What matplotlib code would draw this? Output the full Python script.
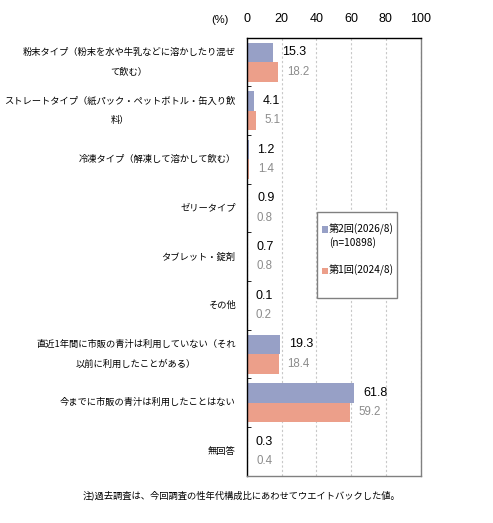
import matplotlib
matplotlib.use("Agg")
import matplotlib.pyplot as plt
from matplotlib.patches import Rectangle
import numpy as np

plt.rcParams['font.family'] = ['Noto Sans CJK JP', 'DejaVu Sans']

categories = [
    "粉末タイプ（粉末を水や牛乳などに溶かしたり混ぜ\nて飲む）",
    "ストレートタイプ（紙パック・ペットボトル・缶入り飲\n料）",
    "冷凍タイプ（解凍して溶かして飲む）",
    "ゼリータイプ",
    "タブレット・錠剤",
    "その他",
    "直近1年間に市販の青汁は利用していない（それ\n以前に利用したことがある）",
    "今までに市販の青汁は利用したことはない",
    "無回答",
]
series2 = [15.3, 4.1, 1.2, 0.9, 0.7, 0.1, 19.3, 61.8, 0.3]
series1 = [18.2, 5.1, 1.4, 0.8, 0.8, 0.2, 18.4, 59.2, 0.4]
label2 = "第2回(2026/8)\n(n=10898)"
label1 = "第1回(2024/8)"
xticks = [0, 20, 40, 60, 80, 100]

c_blue = "#97A0C6"
c_red = "#EC9F8A"

W, H = 493, 523
fig = plt.figure(figsize=(W / 100, H / 100), dpi=100)
ax = fig.add_axes([246.7 / W, 1 - 475.7 / H, 174 / W, 438 / H])

y = np.arange(len(categories))
h = 0.4
ax.barh(y - h / 2, series2, height=h, color=c_blue, zorder=2)
ax.barh(y + h / 2, series1, height=h, color=c_red, zorder=2)

for yi, v in zip(y, series2):
    ax.annotate(f"{v:.1f}", (v, yi - h / 2), xytext=(6.3, 0), textcoords="offset points",
                va="center", ha="left", fontsize=9, color="black", family="Liberation Sans")
for yi, v in zip(y, series1):
    ax.annotate(f"{v:.1f}", (v, yi + h / 2), xytext=(6.3, 0), textcoords="offset points",
                va="center", ha="left", fontsize=8.3, color="#8C8C8C", family="Liberation Sans")

ax.set_xlim(0, 100)
ax.set_ylim(len(categories) - 0.5, -0.5)
ax.set_xticks(xticks)
ax.xaxis.tick_top()
ax.tick_params(axis="x", length=0, pad=9, labelsize=9)
for lab in ax.get_xticklabels():
    lab.set_family("Liberation Sans")
ax.grid(axis="x", color="#C8C8C8", linestyle=(0, (2, 2)), linewidth=0.8, zorder=0)

ax.set_yticks(y)
ax.set_yticklabels(categories, fontsize=6.7, linespacing=2.4, multialignment="center",
                   va="center")
ax.tick_params(axis="y", which="major", length=0, pad=8)
ax.set_yticks(np.arange(len(categories) - 1) + 0.5, minor=True)
ax.tick_params(axis="y", which="minor", length=3, direction="in", color="black")

ax.spines["top"].set_color("black")
ax.spines["left"].set_color("black")
ax.spines["bottom"].set_color("#808080")
ax.spines["right"].set_color("#808080")
for s in ax.spines.values():
    s.set_linewidth(1.0)

fig.text(220 / W, 1 - 20 / H, "(%)", ha="center", va="center", fontsize=8,
         family="Liberation Sans")

# legend box (drawn manually to match layout)
lx0, ly0, lx1, ly1 = 316.7, 211.7, 396.7, 298.0
fig.patches.append(Rectangle((lx0 / W, 1 - ly1 / H), (lx1 - lx0) / W, (ly1 - ly0) / H,
                             transform=fig.transFigure, facecolor="white",
                             edgecolor="#808080", linewidth=1.0, zorder=5))
entries = [(label2, c_blue, 229.0), (label1, c_red, 270.7)]
for text, col, ty in entries:
    fig.patches.append(Rectangle((321.5 / W, 1 - (ty + 3.5) / H), 6.5 / W, 6.5 / H,
                                 transform=fig.transFigure, facecolor=col,
                                 edgecolor="none", zorder=6))
    lines = text.split("\n")
    for k, ln in enumerate(lines):
        fig.text(329 / W, 1 - (ty + 14 * k) / H, ln, ha="left", va="center",
                 fontsize=7.3, zorder=7)

fig.text(241 / W, 1 - 495 / H,
         "注)過去調査は、今回調査の性年代構成比にあわせてウエイトバックした値。",
         ha="center", va="center", fontsize=6.7)

fig.savefig("out.png", dpi=100)
